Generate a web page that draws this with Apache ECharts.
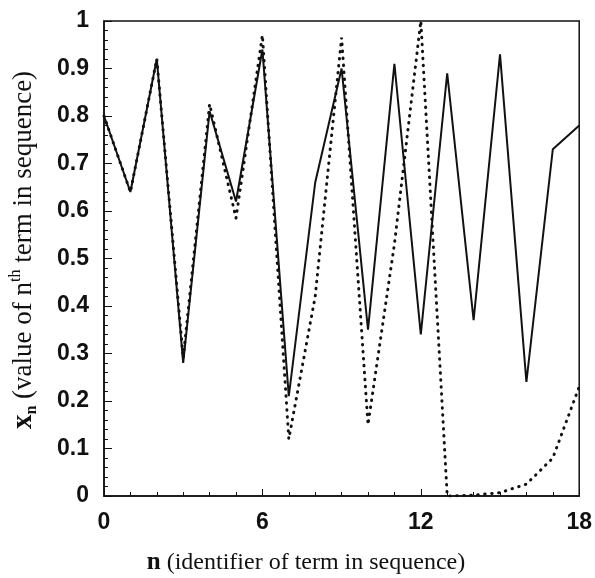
<!DOCTYPE html>
<html>
<head>
<meta charset="utf-8">
<script src="https://cdn.jsdelivr.net/npm/echarts@6/dist/echarts.min.js"></script>
<style>
html,body{margin:0;padding:0;background:#fff;}
#c{width:595px;height:578px;}
</style>
</head>
<body>
<div id="c"></div>
<script>
// Data
var nValues = [0,1,2,3,4,5,6,7,8,9,10,11,12,13,14,15,16,17,18];
var solidSeries = [0.80,0.64,0.92,0.28,0.81,0.62,0.94,0.21,0.66,0.90,0.35,0.91,0.34,0.89,0.37,0.93,0.24,0.73,0.78];
var dottedSeries = [0.80,0.64,0.92,0.29,0.825,0.585,0.97,0.12,0.42,0.965,0.15,0.53,1.0,0.0,0.002,0.007,0.025,0.08,0.23];
var xTicks = [0,6,12,18];
var yTicks = [0,0.1,0.2,0.3,0.4,0.5,0.6,0.7,0.8,0.9,1];

function pairs(xs, ys){ return xs.map(function(x,i){ return [x, ys[i]]; }); }

var ink = '#111';
var chart = echarts.init(document.getElementById('c'), null, {renderer:'canvas'});
chart.setOption({
  backgroundColor:'#fff',
  animation:false,
  grid:{left:104,right:12,top:21,bottom:82,show:true,borderColor:ink,borderWidth:1.5,backgroundColor:'transparent'},
  xAxis:{
    type:'value',min:xTicks[0],max:xTicks[xTicks.length-1],interval:6,
    axisLine:{show:true,lineStyle:{color:ink,width:1.5}},
    axisTick:{show:true,inside:true,length:7,lineStyle:{color:ink,width:1}},
    minorTick:{show:true,splitNumber:6,length:4,lineStyle:{color:ink,width:1}},
    splitLine:{show:false},
    axisLabel:{color:ink,fontSize:23,fontWeight:'bold',fontFamily:'Liberation Sans, Arial, sans-serif',margin:15}
  },
  yAxis:{
    type:'value',min:yTicks[0],max:yTicks[yTicks.length-1],interval:0.1,
    axisLine:{show:true,lineStyle:{color:ink,width:1.5}},
    axisTick:{show:true,inside:true,length:8,lineStyle:{color:ink,width:1}},
    minorTick:{show:true,splitNumber:5,length:4,lineStyle:{color:ink,width:1}},
    splitLine:{show:false},
    axisLabel:{color:ink,fontSize:23,fontWeight:'bold',fontFamily:'Liberation Sans, Arial, sans-serif',margin:15,
      formatter:function(v){ return String(Math.round(v*10)/10); }}
  },
  series:[
    {type:'line',data:pairs(nValues,solidSeries),showSymbol:false,z:3,
     lineStyle:{color:ink,width:2}},
    {type:'line',data:pairs(nValues,dottedSeries),showSymbol:false,z:2,
     lineStyle:{color:ink,width:3,type:[0.5,6.5],cap:'round'}}
  ],
  graphic:[
    {type:'text',x:306,y:563,
     style:{text:'{b|n} (identifier of term in sequence)',font:'24px "Liberation Serif", "Times New Roman", serif',fill:ink,
       align:'center',verticalAlign:'middle',
       rich:{b:{fontWeight:'bold',fontSize:25,fontFamily:'Liberation Serif',fill:ink}}}},
    {type:'text',x:24,y:250,rotation:Math.PI/2,
     style:{text:'{b|x}{sub|n} (value of n{sup|th} term in sequence)',
       font:'27px "Liberation Serif", "Times New Roman", serif',fill:ink,align:'center',verticalAlign:'middle',
       rich:{
         b:{fontWeight:'bold',fontSize:29,fontFamily:'Liberation Serif',fill:ink,lineHeight:32,verticalAlign:'middle'},
         sub:{fontWeight:'bold',fontSize:16,fontFamily:'Liberation Serif',fill:ink,lineHeight:32,verticalAlign:'bottom',padding:[11,0,0,0]},
         sup:{fontSize:16,fontFamily:'Liberation Serif',fill:ink,lineHeight:32,verticalAlign:'top',padding:[0,0,11,0]}
       }}}
  ]
});
</script>
</body>
</html>
